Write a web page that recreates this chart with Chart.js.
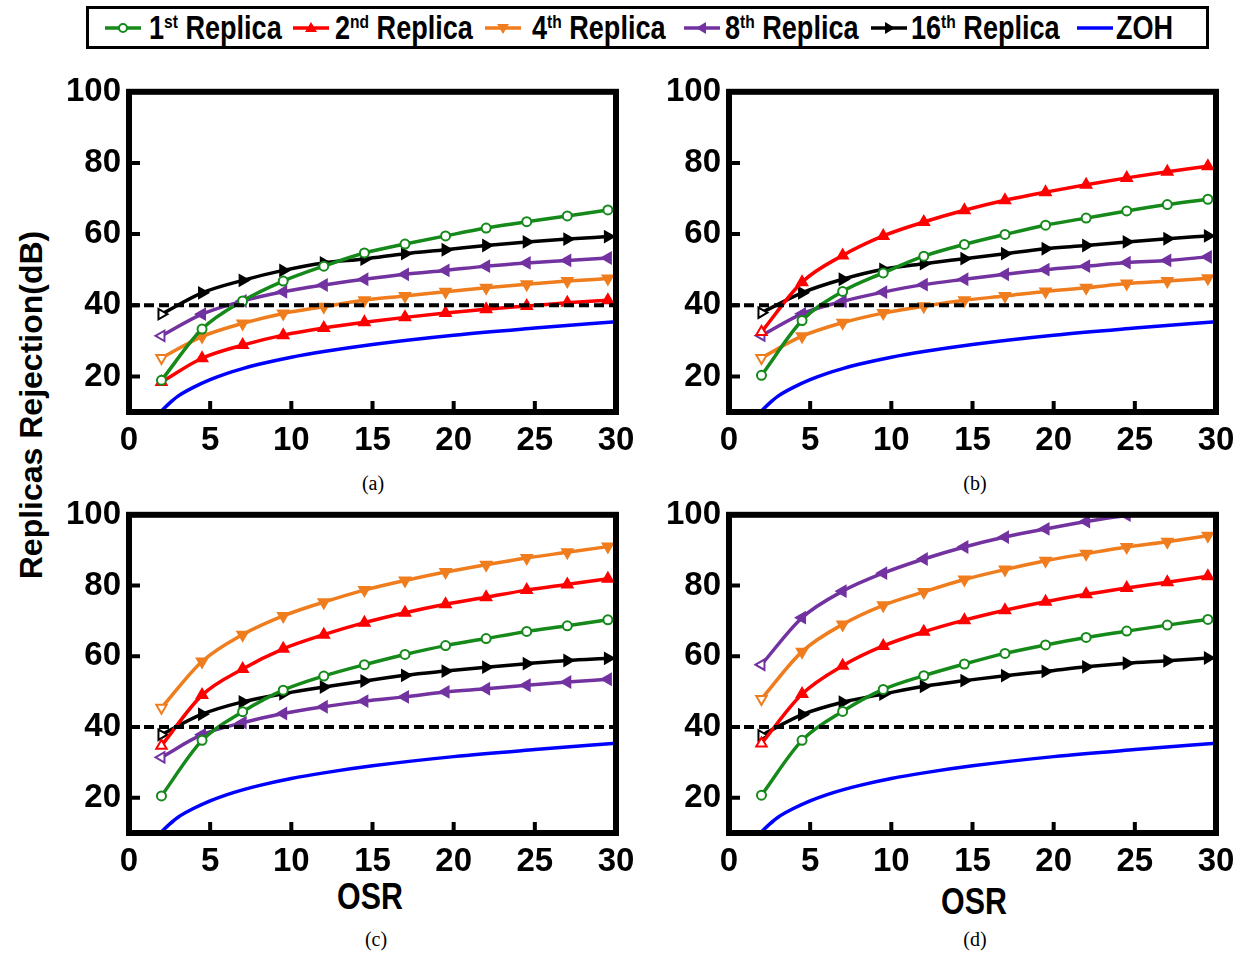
<!DOCTYPE html>
<html>
<head>
<meta charset="utf-8">
<script src="https://cdn.jsdelivr.net/npm/chart.js@4.4.1/dist/chart.umd.min.js"></script>
<style>
body{margin:0;background:#fff;width:1241px;height:954px;position:relative;overflow:hidden}
canvas{position:absolute}
#legend{position:absolute;left:86px;top:6px;width:1123px;height:43px;box-sizing:border-box;border:3px solid #000}
#legend svg{position:absolute;top:9px}
#legend .txt{position:absolute;top:0;height:37px;line-height:37px;font:bold 33px 'Liberation Sans',Arial,sans-serif;color:#000;white-space:nowrap;transform:scaleX(0.82);transform-origin:0 50%}
#legend .txt sup{font-size:19px;vertical-align:0;position:relative;top:-11px}
.lbl{position:absolute;text-align:center;color:#000;white-space:nowrap}
.osr{font:bold 37px 'Liberation Sans',Arial,sans-serif;width:200px;height:40px;line-height:40px;transform:scaleX(0.82)}
.cap{font:20px 'Liberation Serif','Times New Roman',serif;width:100px;height:24px;line-height:24px}
#ylab{font:bold 32px 'Liberation Sans',Arial,sans-serif;width:440px;height:40px;line-height:40px;left:-189px;top:385px;transform:rotate(-90deg)}
</style>
</head>
<body>
<div id="legend"></div>
<div id="ylab" class="lbl">Replicas Rejection(dB)</div>
<div class="lbl osr" style="left:270px;top:877px">OSR</div>
<div class="lbl osr" style="left:874px;top:882px">OSR</div>
<div class="lbl cap" style="left:323px;top:471px">(a)</div>
<div class="lbl cap" style="left:925px;top:471px">(b)</div>
<div class="lbl cap" style="left:326px;top:927px">(c)</div>
<div class="lbl cap" style="left:925px;top:927px">(d)</div>
<canvas id="pa"></canvas>
<canvas id="pb"></canvas>
<canvas id="pc"></canvas>
<canvas id="pd"></canvas>
<script>
// OSR values where the markers sit
const osr = [2, 4.5, 7, 9.5, 12, 14.5, 17, 19.5, 22, 24.5, 27, 29.5]
// ZOH curve (no markers)
const zohOsr = [2, 2.5, 3, 4, 5, 6, 7, 8, 10, 12, 15, 20, 25, 30]
const zohRej = [10.3, 12.5, 14.4, 17.0, 19.1, 20.8, 22.2, 23.4, 25.4, 27.0, 29.0, 31.6, 33.6, 35.4]
const threshold = 40
const xTicks = [0, 5, 10, 15, 20, 25, 30]
const yTicks = [20, 40, 60, 80, 100]

// panel (a)
const a1st = [18.9, 33.3, 41.2, 46.8, 51.0, 54.7, 57.2, 59.5, 61.7, 63.5, 65.1, 66.8]
const a2nd = [18.4, 25.1, 28.8, 31.6, 33.6, 35.2, 36.6, 37.8, 38.9, 39.8, 40.7, 41.4]
const a4th = [25.2, 31.2, 34.9, 37.7, 39.6, 41.4, 42.6, 43.8, 44.9, 45.9, 46.8, 47.5]
const a8th = [31.4, 37.5, 41.2, 43.8, 45.7, 47.3, 48.7, 49.8, 51.0, 51.9, 52.6, 53.3]
const a16th = [37.5, 43.5, 47.0, 49.8, 51.9, 53.0, 54.5, 55.6, 56.8, 57.8, 58.6, 59.3]
// panel (b)
const b1st = [20.3, 35.7, 43.9, 49.1, 53.8, 57.1, 59.9, 62.5, 64.5, 66.5, 68.3, 69.8]
const b2nd = [32.5, 46.5, 54.0, 59.5, 63.4, 66.7, 69.5, 71.8, 73.9, 75.8, 77.5, 79.1]
const b4th = [25.2, 31.3, 35.1, 37.8, 39.7, 41.4, 42.6, 43.9, 44.9, 46.1, 46.8, 47.6]
const b8th = [31.5, 37.6, 41.1, 43.7, 45.8, 47.3, 48.7, 50.0, 51.0, 52.0, 52.6, 53.6]
const b16th = [37.9, 43.5, 47.3, 50.1, 51.7, 53.1, 54.5, 55.9, 56.8, 57.8, 58.7, 59.5]
// panel (c)
const c1st = [20.5, 36.2, 44.3, 50.4, 54.4, 57.6, 60.5, 63.0, 65.0, 67.0, 68.6, 70.3]
const c2nd = [34.7, 49.0, 56.4, 62.1, 66.1, 69.5, 72.3, 74.7, 76.7, 78.7, 80.3, 81.9]
const c4th = [45.4, 58.5, 66.1, 71.4, 75.3, 78.7, 81.4, 83.8, 85.9, 87.8, 89.4, 91.0]
const c8th = [31.4, 37.8, 41.2, 43.8, 45.7, 47.3, 48.5, 49.9, 50.8, 51.8, 52.7, 53.5]
const c16th = [37.8, 43.6, 47.1, 49.4, 51.3, 53.0, 54.6, 55.8, 56.9, 57.9, 58.8, 59.4]
// panel (d)  (8th replica leaves the plot after 24.5)
const d1st = [20.7, 36.2, 44.4, 50.6, 54.5, 57.8, 60.8, 63.2, 65.3, 67.1, 68.8, 70.4]
const d2nd = [35.3, 49.3, 57.3, 62.9, 66.9, 70.2, 73.0, 75.4, 77.5, 79.3, 80.9, 82.6]
const d4th = [47.9, 61.3, 69.0, 74.4, 78.2, 81.7, 84.5, 87.0, 89.0, 90.9, 92.4, 94.1]
const d8th = [57.6, 70.9, 78.4, 83.5, 87.5, 90.9, 93.7, 96.0, 98.1, 99.9]
const d16th = [37.6, 43.5, 47.0, 49.3, 51.5, 53.1, 54.5, 55.7, 57.0, 58.0, 58.7, 59.5]

const seriesStyle = [
  {label: '1st Replica', color: '#15891a', style: 'circle', rot: 0, hollow: true},
  {label: '2nd Replica', color: '#ff0000', style: 'triangle', rot: 0},
  {label: '4th Replica', color: '#ef7d1e', style: 'triangle', rot: 180},
  {label: '8th Replica', color: '#7232a0', style: 'triangle', rot: 270},
  {label: '16th Replica', color: '#000000', style: 'triangle', rot: 90}
]
const zohColor = '#0000ff'

const framePlugin = {
  id: 'frame',
  afterDatasetsDraw(chart){
    const {ctx, chartArea: c, scales: {x, y}} = chart
    ctx.save()
    ctx.strokeStyle = '#000'
    ctx.lineWidth = 4
    ctx.beginPath()
    xTicks.slice(1, -1).forEach(v => {
      const px = x.getPixelForValue(v)
      ctx.moveTo(px, c.bottom); ctx.lineTo(px, c.bottom - 11)
    })
    yTicks.slice(0, -1).forEach(v => {
      const py = y.getPixelForValue(v)
      ctx.moveTo(c.left, py); ctx.lineTo(c.left + 11, py)
    })
    ctx.stroke()
    ctx.lineWidth = 6
    ctx.strokeRect(c.left, c.top, c.right - c.left, c.bottom - c.top)
    ctx.restore()
  }
}

function makePanel(id, box, values){
  const padL = 80, padT = 25, padR = 30, padB = 55
  const cv = document.getElementById(id)
  cv.width = padL + box.w + padR
  cv.height = padT + box.h + padB
  cv.style.left = (box.left - padL) + 'px'
  cv.style.top = (box.top - padT) + 'px'

  const datasets = [{
    data: [{x: xTicks[0], y: threshold}, {x: xTicks[xTicks.length - 1], y: threshold}],
    borderColor: '#000', borderWidth: 4, borderDash: [10, 5], pointRadius: 0
  }]
  values.forEach((vals, k) => {
    const s = seriesStyle[k]
    datasets.push({
      label: s.label,
      data: vals.map((v, i) => ({x: osr[i], y: v})),
      borderColor: s.color,
      borderWidth: 3.5,
      cubicInterpolationMode: 'monotone',
      pointStyle: s.style,
      rotation: s.rot,
      pointRadius: s.style === 'circle' ? 4.5 : 6,
      pointBorderWidth: 2,
      pointBorderColor: s.color,
      pointBackgroundColor: vals.map((v, i) => (s.hollow || i === 0) ? '#fff' : s.color)
    })
  })
  datasets.push({
    label: 'ZOH',
    data: zohOsr.map((x, i) => ({x, y: zohRej[i]})),
    borderColor: zohColor, borderWidth: 3.5,
    cubicInterpolationMode: 'monotone', pointRadius: 0
  })

  const tickFont = {family: "'Liberation Sans', Arial, sans-serif", size: 33, weight: 'bold'}
  new Chart(cv, {
    type: 'line',
    data: {datasets},
    options: {
      responsive: false,
      animation: false,
      devicePixelRatio: 1,
      layout: {padding: {left: 0, top: padT, right: padR, bottom: 0}},
      plugins: {legend: {display: false}, tooltip: {enabled: false}},
      scales: {
        x: {
          type: 'linear', min: 0, max: 30,
          afterBuildTicks: s => { s.ticks = xTicks.map(v => ({value: v})) },
          afterFit: s => { s.height = padB },
          grid: {display: false, drawTicks: false},
          border: {display: false},
          ticks: {color: '#000', font: tickFont, padding: 9, maxRotation: 0, autoSkip: false}
        },
        y: {
          type: 'linear', min: 10, max: 100,
          afterBuildTicks: s => { s.ticks = yTicks.map(v => ({value: v})) },
          afterFit: s => { s.width = padL },
          grid: {display: false, drawTicks: false},
          border: {display: false},
          ticks: {color: '#000', font: tickFont, padding: 8}
        }
      }
    },
    plugins: [framePlugin]
  })
}

makePanel('pa', {left: 129, top: 89, w: 487, h: 323}, [a1st, a2nd, a4th, a8th, a16th])
makePanel('pb', {left: 729, top: 89, w: 487, h: 323}, [b1st, b2nd, b4th, b8th, b16th])
makePanel('pc', {left: 129, top: 512, w: 487, h: 321}, [c1st, c2nd, c4th, c8th, c16th])
makePanel('pd', {left: 729, top: 512, w: 487, h: 321}, [d1st, d2nd, d4th, d8th, d16th])

// legend (html, so the superscripts stay real text)
const legendPos = [
  {sample: 105, text: 149, sup: 'st', num: '1'},
  {sample: 293, text: 335, sup: 'nd', num: '2'},
  {sample: 485, text: 532, sup: 'th', num: '4'},
  {sample: 684, text: 725, sup: 'th', num: '8'},
  {sample: 871, text: 911, sup: 'th', num: '16'},
  {sample: 1077, text: 1116}
]
function markerSvg(s){
  if (!s) return ''
  if (s.style === 'circle') return `<circle cx="18" cy="10" r="4" fill="#fff" stroke="${s.color}" stroke-width="2"/>`
  return `<polygon points="18,4 24,14 12,14" fill="${s.color}" transform="rotate(${s.rot} 18 10)"/>`
}
const legend = document.getElementById('legend')
legendPos.forEach((p, k) => {
  const s = seriesStyle[k]
  const color = s ? s.color : zohColor
  const x0 = p.sample - 89
  legend.insertAdjacentHTML('beforeend',
    `<svg width="36" height="20" style="left:${x0}px"><line x1="0" y1="10" x2="36" y2="10" stroke="${color}" stroke-width="3.5"/>${markerSvg(s)}</svg>`)
  const label = s ? `${p.num}<sup>${p.sup}</sup> Replica` : 'ZOH'
  legend.insertAdjacentHTML('beforeend', `<span class="txt" style="left:${p.text - 89}px">${label}</span>`)
})
</script>
</body>
</html>
